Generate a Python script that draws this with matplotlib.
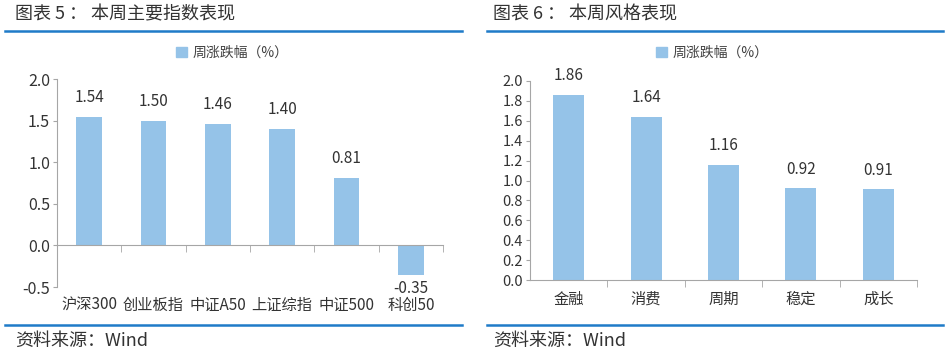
import matplotlib
matplotlib.use("Agg")
import matplotlib.pyplot as plt
from matplotlib.lines import Line2D
from matplotlib.patches import Patch

plt.rcParams['font.family'] = ['Noto Sans CJK SC', 'DejaVu Sans']

# data
idx_names = ['沪深300', '创业板指', '中证A50', '上证综指', '中证500', '科创50']
idx_values = [1.54, 1.50, 1.46, 1.40, 0.81, -0.35]
style_names = ['金融', '消费', '周期', '稳定', '成长']
style_values = [1.86, 1.64, 1.16, 0.92, 0.91]

BAR = '#95c3e8'
AXIS = '#a6a6a6'
TEXT = '#333333'
BLUE = '#1f7bc8'

fig = plt.figure(figsize=(9.48, 3.54), dpi=100)
W, H = 948, 354


def box(x0, y0, x1, y1):
    return [x0 / W, 1 - y1 / H, (x1 - x0) / W, (y1 - y0) / H]


def draw_bars(ax, names, values, ylim, yticks, tick_fs, lab_fs, cat_fs, pad):
    x = list(range(len(names)))
    ax.bar(x, values, width=0.4, color=BAR, zorder=2)
    ax.set_xlim(-0.5, len(names) - 0.5)
    ax.set_ylim(*ylim)
    ax.set_yticks(yticks)
    ax.set_yticklabels(['{:.1f}'.format(v) for v in yticks], fontsize=tick_fs, color=TEXT)
    for s in ['top', 'right']:
        ax.spines[s].set_visible(False)
    ax.spines['left'].set_color(AXIS)
    ax.spines['bottom'].set_color(AXIS)
    ax.spines['bottom'].set_position(('data', 0))
    ax.tick_params(axis='y', length=3, color=AXIS, pad=2)
    ax.set_xticks(x)
    ax.set_xticklabels(names, fontsize=cat_fs, color=TEXT)
    ax.tick_params(axis='x', which='major', length=0, pad=pad)
    ax.set_xticks([i + 0.5 for i in x], minor=True)
    ax.tick_params(axis='x', which='minor', length=5, color=AXIS)
    for xi, v in zip(x, values):
        off = 14 if v >= 0 else -10
        ax.annotate('{:.2f}'.format(v), (xi, v), xytext=(0, off),
                    textcoords='offset points', ha='center', va='center',
                    fontsize=lab_fs, color=TEXT)


def frame(x_title, x0, x1, title, legend_x):
    fig.text(x_title / W, 1 - 14 / H, title, fontsize=13, color=TEXT, va='center')
    fig.add_artist(Line2D([x0 / W, x1 / W], [1 - 31 / H] * 2, color=BLUE, lw=1.8))
    fig.add_artist(Line2D([x0 / W, x1 / W], [1 - 325 / H] * 2, color=BLUE, lw=1.8))
    fig.text(x_title / W, 1 - 341 / H, '资料来源：Wind', fontsize=13, color=TEXT, va='center')
    fig.legend(handles=[Patch(color=BAR, label='周涨跌幅（%）')],
               loc='center', bbox_to_anchor=(legend_x / W, 1 - 53 / H),
               frameon=False, fontsize=10, handlelength=0.8, handleheight=0.8,
               handletextpad=0.4, labelcolor='#404040')


ax1 = fig.add_axes(box(57, 79, 443, 287))
draw_bars(ax1, idx_names, idx_values, (-0.5, 2.0), [-0.5, 0, 0.5, 1.0, 1.5, 2.0],
          11.5, 11, 11, 37)
frame(15, 5, 462, '图表 5 ： 本周主要指数表现', 232)

ax2 = fig.add_axes(box(530, 81, 917, 280))
draw_bars(ax2, style_names, style_values, (0, 2.0),
          [0, 0.2, 0.4, 0.6, 0.8, 1.0, 1.2, 1.4, 1.6, 1.8, 2.0],
          10.5, 11, 11, 8)
frame(493, 487, 943, '图表 6 ： 本周风格表现', 712)

fig.savefig('out.png', dpi=100)
